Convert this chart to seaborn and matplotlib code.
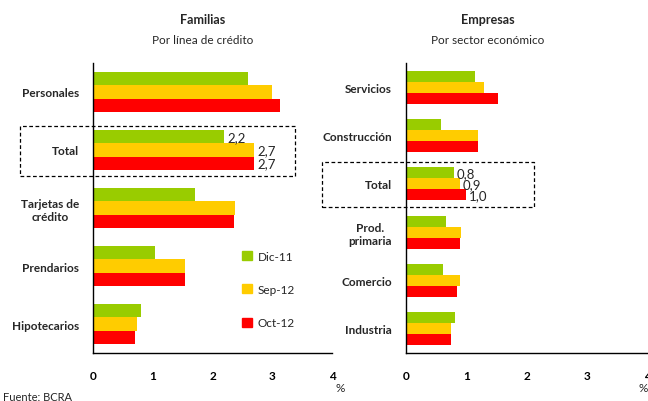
# Import Libraries
import pandas as pd
import seaborn as sns
import matplotlib.pyplot as plt
from matplotlib.patches import Rectangle, Patch

# Data
periodos = ['Dic-11', 'Sep-12', 'Oct-12']
colores = ['#99cc00', '#ffcc00', '#ff0000']

familias_cat = ['Personales', 'Total', 'Tarjetas de\ncrédito', 'Prendarios', 'Hipotecarios']
familias_dic11 = [2.6, 2.2, 1.71, 1.03, 0.81]
familias_sep12 = [3.0, 2.7, 2.38, 1.54, 0.74]
familias_oct12 = [3.13, 2.7, 2.36, 1.54, 0.71]

empresas_cat = ['Servicios', 'Construcción', 'Total', 'Prod.\nprimaria', 'Comercio', 'Industria']
empresas_dic11 = [1.14, 0.58, 0.8, 0.67, 0.62, 0.82]
empresas_sep12 = [1.29, 1.2, 0.9, 0.92, 0.89, 0.75]
empresas_oct12 = [1.52, 1.2, 1.0, 0.9, 0.85, 0.75]


def to_long(cats, *series):
    rows = []
    for per, vals in zip(periodos, series):
        for c, v in zip(cats, vals):
            rows.append({'cat': c, 'periodo': per, 'valor': v})
    return pd.DataFrame(rows)


df_fam = to_long(familias_cat, familias_dic11, familias_sep12, familias_oct12)
df_emp = to_long(empresas_cat, empresas_dic11, empresas_sep12, empresas_oct12)

sns.set_style('white')
plt.rcParams['font.family'] = ['Lato', 'DejaVu Sans']

fig = plt.figure(figsize=(6.48, 4.02), dpi=100)
ax1 = fig.add_axes([0.1435, 0.1194, 0.369, 0.7214])
ax2 = fig.add_axes([0.6265, 0.1194, 0.372, 0.7214])


def draw(ax, df, cats, title, subtitle, xc):
    sns.barplot(data=df, y='cat', x='valor', hue='periodo', order=cats,
                hue_order=periodos, palette=colores, orient='h', width=0.68,
                gap=0, saturation=1, edgecolor='none', legend=False, ax=ax)
    ax.set_xlim(0, 4)
    ax.set_ylim(len(cats) - 0.5, -0.5)
    ax.set_xticks([0, 1, 2, 3, 4])
    ax.set_xlabel('')
    ax.set_ylabel('')
    for s in ['top', 'right']:
        ax.spines[s].set_visible(False)
    for s in ['left', 'bottom']:
        ax.spines[s].set_color('black')
        ax.spines[s].set_linewidth(1)
    ax.tick_params(axis='x', direction='in', length=4, width=1, pad=12,
                   labelsize=8.5, colors='black')
    ax.tick_params(axis='y', length=0, pad=10, labelsize=8.5)
    for lab in ax.get_xticklabels() + ax.get_yticklabels():
        lab.set_fontweight('bold')
    for lab in ax.get_yticklabels():
        lab.set_horizontalalignment('right')
        lab.set_multialignment('center')
    fig.text(xc / 648, 1 - 20 / 402, title, ha='center', va='center',
             fontsize=9, fontweight='bold')
    fig.text(xc / 648, 1 - 40 / 402, subtitle, ha='center', va='center',
             fontsize=8.5)
    # value labels for Total
    idx = cats.index('Total')
    for cont in ax.containers:
        labels = []
        for i, bar in enumerate(cont):
            labels.append(f'{bar.get_width():.1f}'.replace('.', ',') if i == idx else '')
        ax.bar_label(cont, labels=labels, padding=2, fontsize=9.5)


draw(ax1, df_fam, familias_cat, 'Familias', 'Por línea de crédito', 203)
draw(ax2, df_emp, empresas_cat, 'Empresas', 'Por sector económico', 488)

# Dashed boxes around Total
fig.add_artist(Rectangle((20 / 648, 1 - 177 / 402), 275 / 648, 50 / 402,
                         transform=fig.transFigure, fill=False, ls=(0, (3, 2)),
                         lw=0.9, color='black'))
fig.add_artist(Rectangle((322 / 648, 1 - 208 / 402), 212 / 648, 45 / 402,
                         transform=fig.transFigure, fill=False, ls=(0, (3, 2)),
                         lw=0.9, color='black'))

# Legend
handles = [Patch(color=c, label=p) for c, p in zip(colores, periodos)]
ax1.legend(handles=handles, loc='upper left', bbox_to_anchor=(0.58, 0.39),
           frameon=False, fontsize=8.5, handlelength=0.8, handleheight=0.8,
           labelspacing=1.9, handletextpad=0.5)

fig.text(340 / 648, 1 - 389 / 402, '%', ha='center', va='center', fontsize=8.5)
fig.text(643 / 648, 1 - 389 / 402, '%', ha='center', va='center', fontsize=8.5)
fig.text(0.005, 1 - 398 / 402, 'Fuente: BCRA', ha='left', va='center', fontsize=8)

plt.savefig('out.png', dpi=100)
